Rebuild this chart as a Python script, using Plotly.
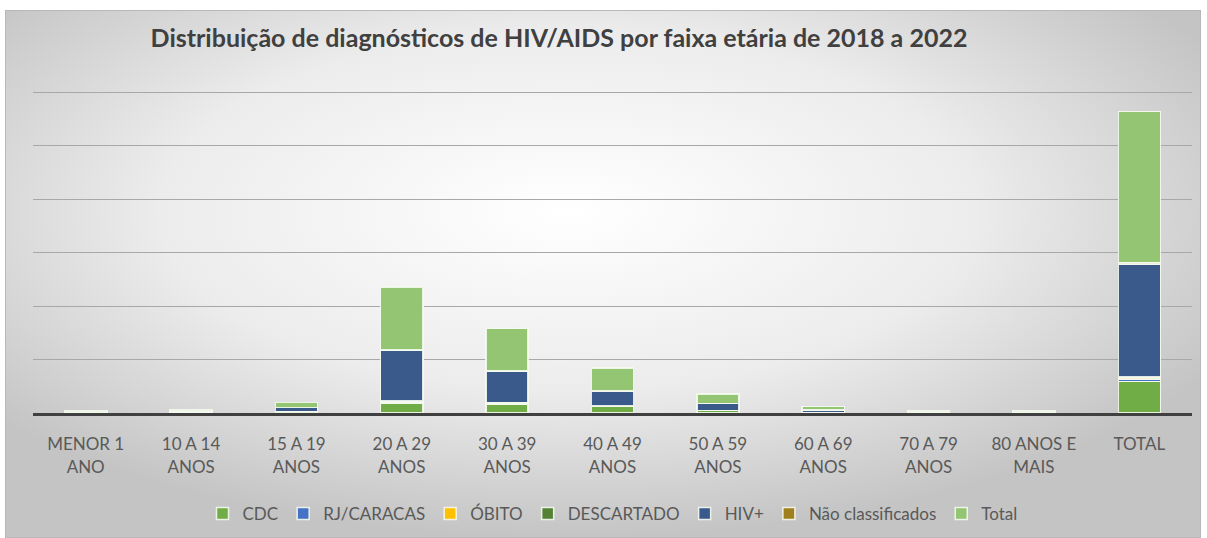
import base64
import plotly.graph_objects as go

categories = ["MENOR 1<br>ANO", "10 A 14<br>ANOS", "15 A 19<br>ANOS", "20 A 29<br>ANOS",
              "30 A 39<br>ANOS", "40 A 49<br>ANOS", "50 A 59<br>ANOS", "60 A 69<br>ANOS",
              "70 A 79<br>ANOS", "80 ANOS E<br>MAIS", "TOTAL"]
cdc = [1, 1, 3, 19, 16, 13, 5, 1, 0, 0, 59]
rj_caracas = [0, 0, 0, 2, 2, 1, 0, 0, 0, 0, 5]
obito = [0, 0, 0, 1, 1, 0, 0, 0, 0, 0, 2]
descartado = [0, 0, 0, 0, 1, 0, 0, 0, 0, 0, 1]
hiv = [1, 2, 7, 95, 58, 27, 13, 5, 2, 2, 212]
nao_classificados = [0, 0, 0, 1, 1, 1, 0, 0, 0, 0, 3]
total = [2, 3, 10, 118, 79, 42, 18, 6, 2, 2, 282]

series = [
    ("CDC", cdc, "#70ad47"),
    ("RJ/CARACAS", rj_caracas, "#4472c4"),
    ("ÓBITO", obito, "#ffc000"),
    ("DESCARTADO", descartado, "#548235"),
    ("HIV+", hiv, "#3b5a8c"),
    ("Não classificados", nao_classificados, "#a0801c"),
    ("Total", total, "#93c572"),
]

FONT = "Lato, Roboto, sans-serif"

fig = go.Figure()
for name, vals, color in series:
    fig.add_trace(go.Bar(
        name=name, x=categories, y=vals,
        marker=dict(color=color, line=dict(color="rgba(245,250,240,0.9)", width=1.5)),
    ))

W, H = 1207, 538
L, R, T, B = 33, 15, 87, 125
pw, ph = W - L - R, H - T - B

svg = ("<svg xmlns='http://www.w3.org/2000/svg' width='1196' height='528' viewBox='0 0 1196 528' "
       "preserveAspectRatio='none'><defs><radialGradient id='g' cx='0.47' cy='0.38' r='0.62'>"
       "<stop offset='0' stop-color='#ffffff'/><stop offset='0.55' stop-color='#ececec'/>"
       "<stop offset='1' stop-color='#c4c4c4'/></radialGradient></defs>"
       "<rect x='0' y='0' width='1196' height='528' fill='url(#g)' stroke='#b8b8b8' stroke-width='2'/></svg>")
src = "data:image/svg+xml;base64," + base64.b64encode(svg.encode()).decode()
img_x0, img_y0, img_w, img_h = 5, 10, 1196, 528

fig.update_layout(
    width=W, height=H,
    margin=dict(l=L, r=R, t=T, b=B, autoexpand=False),
    barmode="stack", bargap=0.6,
    paper_bgcolor="white", plot_bgcolor="rgba(0,0,0,0)",
    images=[dict(source=src, xref="paper", yref="paper",
                 x=(img_x0 - L) / pw, y=(H - B - img_y0) / ph,
                 sizex=img_w / pw, sizey=img_h / ph,
                 xanchor="left", yanchor="top", sizing="stretch", layer="below")],
    title=dict(text="<b>Distribuição de diagnósticos de HIV/AIDS por faixa etária de 2018 a 2022</b>",
               x=559 / W, xanchor="center", xref="container",
               y=1 - 38 / H, yanchor="middle", yref="container",
               font=dict(family=FONT, size=25, color="#404040")),
    font=dict(family=FONT, size=17, color="#595959"),
    showlegend=True,
    legend=dict(orientation="h", x=0.5, xanchor="center", y=(H - B - 514) / ph, yanchor="middle",
                bgcolor="rgba(0,0,0,0)", font=dict(family=FONT, size=17, color="#595959"),
                traceorder="normal"),
    xaxis=dict(showline=True, linecolor="#404040", linewidth=3, showgrid=False,
               tickfont=dict(family=FONT, size=17, color="#595959"), ticks="", ticklabelstandoff=14,
               fixedrange=True),
    yaxis=dict(range=[0, 610], tickvals=[100, 200, 300, 400, 500, 600], showticklabels=False,
               showgrid=True, gridcolor="#a8a8a8", gridwidth=1, zeroline=False, fixedrange=True),
)

fig.write_html("out.html", config={"displayModeBar": False},
               post_script="document.body.style.margin='0';")
